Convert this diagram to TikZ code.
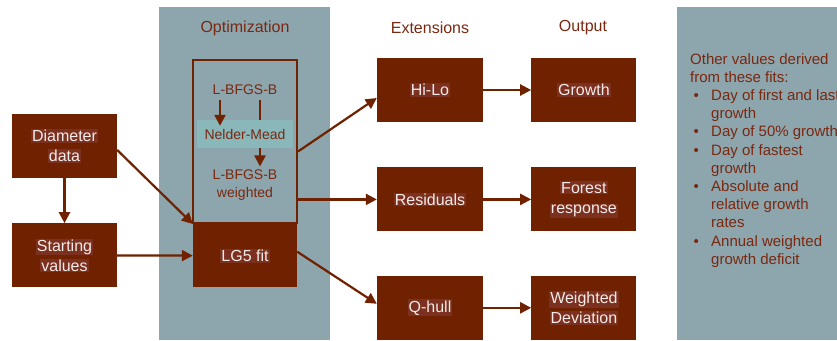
\documentclass[tikz,border=0pt]{standalone}
\usepackage{fontspec}
\setmainfont{Liberation Sans}
\usetikzlibrary{calc,arrows.meta,positioning}
\definecolor{boxbrown}{HTML}{6F2100}
\definecolor{panelgrey}{HTML}{8DA5AC}
\definecolor{bandteal}{HTML}{89B7BA}
\definecolor{textbrown}{HTML}{7A2810}
\definecolor{labelbg}{HTML}{7B3020}
\definecolor{boxtext}{HTML}{F3ECE8}
\newcommand{\lbl}[1]{{\setlength{\fboxsep}{1pt}\colorbox{labelbg}{#1}}}
\newcommand{\bul}{\makebox[21pt][l]{\hspace{3.5pt}\textbullet}}
\newcommand{\ind}{\hspace*{21pt}}
\tikzset{
    every node/.style={font=\fontsize{16}{20}\selectfont},
    main node/.style={shape=rectangle, fill=boxbrown, text=boxtext,
    	align=center, inner sep=0pt,
    	minimum width=105pt, minimum height=64pt},
    head node/.style={text=textbrown},
    opt text/.style={text=textbrown, align=center, inner sep=0pt,
    	font=\fontsize{14}{18}\selectfont},
    band node/.style={fill=bandteal, text=textbrown, inner sep=0pt,
    	minimum width=96pt, minimum height=28pt,
    	font=\fontsize{14}{18}\selectfont},
    notes/.style={text=textbrown, align=left, inner sep=0pt,
    	font=\fontsize{15}{18.2}\selectfont},
    link/.style={->, draw=boxbrown, line width=2.2pt}
}

\begin{document}
\begin{tikzpicture}[x=1pt,y=-1pt,>={Triangle[length=11pt,width=11pt]}]
    \useasboundingbox (0,0) rectangle (837,340);
    \fill[panelgrey] (159,7) rectangle (330,340);
    \fill[panelgrey] (677,7) rectangle (837,340);

    \node[head node] (h1) at (245,28) {Optimization};
    \node[head node] (h2) at (430,28) {Extensions};
    \node[head node] (h3) at (583,28) {Output};

    \node[main node] (1) at (64.5,146) {\lbl{Diameter}\\\lbl{data}};
    \node[main node, below=45pt of 1] (2) {\lbl{Starting}\\\lbl{values}};

    \node[draw=boxbrown, line width=2pt, minimum width=104pt, minimum height=163pt, inner sep=0pt] (3) at (245,141.5) {};
    \node[main node, minimum width=104pt, minimum height=63pt, below=0pt of 3] (4) {\lbl{LG5 fit}};

    \node[opt text] (5) at (245,90) {L-BFGS-B};
    \node[opt text] (7) at (245,185) {L-BFGS-B\\weighted};
    \draw[link, shorten <=5pt, shorten >=3pt] ([xshift=15pt]5.south) -- ([xshift=15pt]7.north);
    \node[band node] (6) at (245,134) {Nelder-Mead};
    \draw[link, shorten <=5pt, shorten >=-6pt] ([xshift=-25pt]5.south) -- ([xshift=-25pt]6.north);

    \node[main node, minimum width=106pt] (8) at (430,90) {\lbl{Hi-Lo}};
    \node[main node, right=48pt of 8] (9) {\lbl{Growth}};
    \node[main node, minimum width=106pt, below=45pt of 8] (10) {\lbl{Residuals}};
    \node[main node, right=48pt of 10] (11) {\lbl{Forest}\\\lbl{response}};
    \node[main node, minimum width=106pt, below=44pt of 10] (12) {\lbl{Q-hull}};
    \node[main node, right=48pt of 12] (13) {\lbl{Weighted}\\\lbl{Deviation}};

    \node[notes, anchor=north west] (14) at (690,53) {Other values derived\\from these fits:\\\bul Day of first and last\\\ind growth\\\bul Day of 50\% growth\\\bul Day of fastest\\\ind growth\\\bul Absolute and\\\ind relative growth\\\ind rates\\\bul Annual weighted\\\ind growth deficit};

    \draw[link] ($(1.east)+(0,4)$) -- (4.north west);
    \draw[link] (1) -- (2);
    \draw[link] (2) -- (4);
    \draw[link] ($(3.east)+(0,10)$) -- ($(8.west)+(0,8)$);
    \draw[link] (3.east |- 10.west) -- (10.west);
    \draw[link] ($(4.east)+(0,-4)$) -- ($(12.west)+(0,-4)$);
    \draw[link] (8) -- (9);
    \draw[link] (10) -- (11);
    \draw[link] (12) -- (13);
\end{tikzpicture}
\end{document}
